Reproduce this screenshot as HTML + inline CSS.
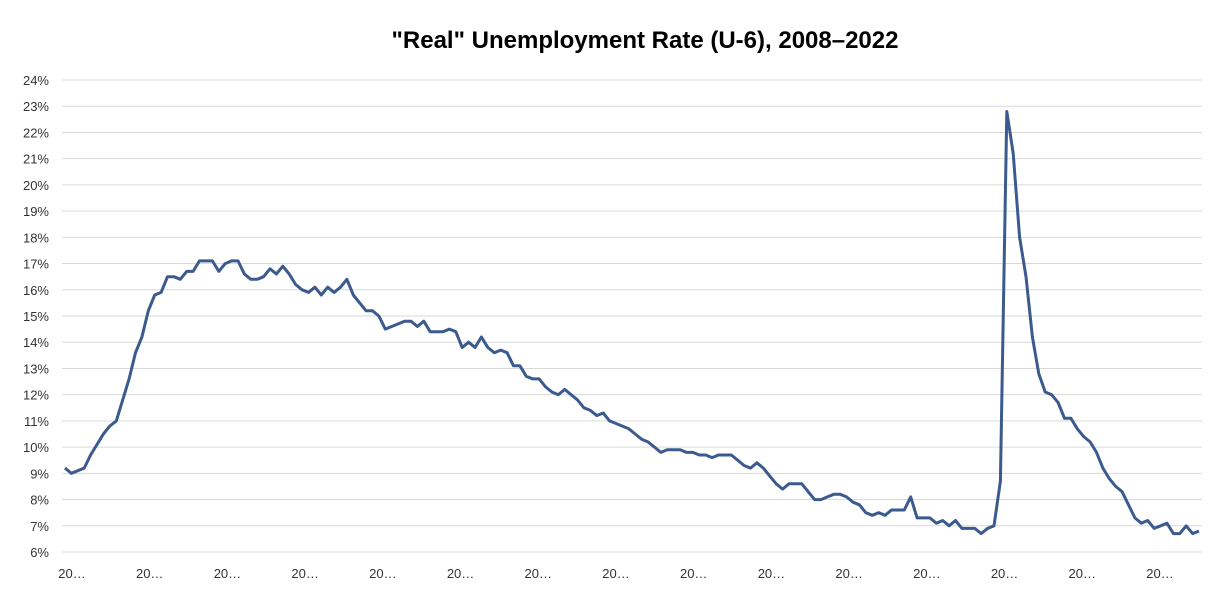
<!DOCTYPE html>
<html><head><meta charset="utf-8"><style>
body{margin:0;background:#fff;font-family:"Liberation Sans",Arial,sans-serif}
svg{display:block}
</style></head><body>
<svg id="chart" width="1231" height="594" xmlns="http://www.w3.org/2000/svg">
<text x="645" y="48" text-anchor="middle" font-size="24" font-weight="bold" fill="#000">"Real" Unemployment Rate (U-6), 2008–2022</text>
<g id="grid"></g>
<g id="yaxis"></g>
<g id="xaxis"></g>
<g id="series"></g>
</svg>
<script>
const yTicks=[6,7,8,9,10,11,12,13,14,15,16,17,18,19,20,21,22,23,24];
const xTickLabels=["20…","20…","20…","20…","20…","20…","20…","20…","20…","20…","20…","20…","20…","20…","20…"];
const u6=[
9.2,9.0,9.1,9.2,9.7,10.1,10.5,10.8,11.0,11.8,12.6,13.6,
14.2,15.2,15.8,15.9,16.5,16.5,16.4,16.7,16.7,17.1,17.1,17.1,
16.7,17.0,17.1,17.1,16.6,16.4,16.4,16.5,16.8,16.6,16.9,16.6,
16.2,16.0,15.9,16.1,15.8,16.1,15.9,16.1,16.4,15.8,15.5,15.2,
15.2,15.0,14.5,14.6,14.7,14.8,14.8,14.6,14.8,14.4,14.4,14.4,
14.5,14.4,13.8,14.0,13.8,14.2,13.8,13.6,13.7,13.6,13.1,13.1,
12.7,12.6,12.6,12.3,12.1,12.0,12.2,12.0,11.8,11.5,11.4,11.2,
11.3,11.0,10.9,10.8,10.7,10.5,10.3,10.2,10.0,9.8,9.9,9.9,
9.9,9.8,9.8,9.7,9.7,9.6,9.7,9.7,9.7,9.5,9.3,9.2,
9.4,9.2,8.9,8.6,8.4,8.6,8.6,8.6,8.3,8.0,8.0,8.1,
8.2,8.2,8.1,7.9,7.8,7.5,7.4,7.5,7.4,7.6,7.6,7.6,
8.1,7.3,7.3,7.3,7.1,7.2,7.0,7.2,6.9,6.9,6.9,6.7,
6.9,7.0,8.7,22.8,21.2,18.0,16.5,14.2,12.8,12.1,12.0,11.7,
11.1,11.1,10.7,10.4,10.2,9.8,9.2,8.8,8.5,8.3,7.8,7.3,
7.1,7.2,6.9,7.0,7.1,6.7,6.7,7.0,6.7,6.8];
const NS="http://www.w3.org/2000/svg";
const y0=552,pxPerPct=(552-80)/18,yMin=6;
function yScale(v){return y0-(v-yMin)*pxPerPct;}
const xStart=65,xEnd=1199;
function xScale(i){return xStart+i*(xEnd-xStart)/(u6.length-1);}
function mk(tag,attrs){const e=document.createElementNS(NS,tag);for(const k in attrs)e.setAttribute(k,attrs[k]);return e;}
const grid=document.getElementById('grid'),ya=document.getElementById('yaxis'),xa=document.getElementById('xaxis');
yTicks.forEach(t=>{
  const l=mk('line',{x1:62,x2:1202,y1:yScale(t),y2:yScale(t),stroke:'#d9d9d9','stroke-width':1});
  
  
  grid.appendChild(l);
  const tx=mk('text',{x:49,y:yScale(t)+5,'text-anchor':'end','font-size':13,fill:'#333'});
  
  
  tx.textContent=t+'%';ya.appendChild(tx);
});
const lx0=72,lx1=1160;
xTickLabels.forEach((s,k)=>{
  const tx=mk('text',{x:lx0+k*(lx1-lx0)/(xTickLabels.length-1),y:578,'text-anchor':'middle','font-size':13,fill:'#333'});
  
  
  tx.textContent=s;xa.appendChild(tx);
});
const pts=u6.map((v,i)=>xScale(i).toFixed(1)+','+yScale(v).toFixed(1)).join(' ');
const pl=mk('polyline',{points:pts,fill:'none',stroke:'#3b5a8e','stroke-width':3,'stroke-linejoin':'round'});


document.getElementById('series').appendChild(pl);
</script>
</body></html>
